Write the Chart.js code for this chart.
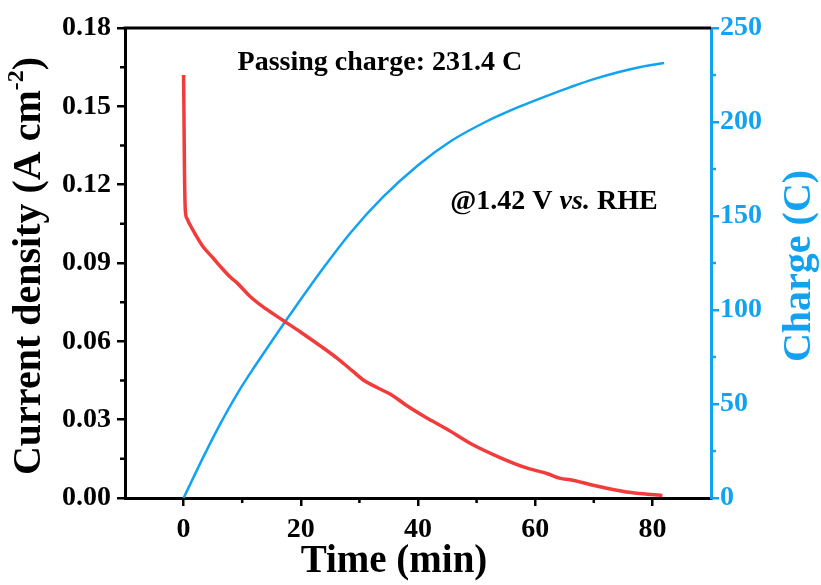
<!DOCTYPE html>
<html>
<head>
<meta charset="utf-8">
<script src="https://cdn.jsdelivr.net/npm/chart.js@4.4.0/dist/chart.umd.min.js"></script>
<style>
  html, body { margin: 0; padding: 0; background: #fff; }
  #wrap { width: 821px; height: 585px; }
</style>
</head>
<body>
<div id="wrap"><canvas id="chart"></canvas></div>
<script>
// Current density (A cm^-2) against time (min)
const currentTime = [0, 0.05, 0.15, 0.3, 0.6, 1, 2, 3.4, 5, 6.3, 8, 9.2, 11.4, 14, 17, 20, 23.5, 26.5, 28.8, 30.8, 33, 35.7, 38, 41.3, 44.9, 49.2, 54.1, 58.4, 62.1, 64.3, 66, 69.5, 75.6, 81.7];
const currentDensity = [0.162, 0.150, 0.125, 0.110, 0.107, 0.105, 0.101, 0.096, 0.092, 0.0886, 0.0845, 0.0822, 0.0771, 0.0725, 0.068, 0.0635, 0.058, 0.053, 0.0487, 0.045, 0.0423, 0.0392, 0.0355, 0.0309, 0.0264, 0.0206, 0.0154, 0.0116, 0.0093, 0.0075, 0.007, 0.0051, 0.0023, 0.001];

// Passed charge (C) against time (min)
const chargeTime = [0, 3.4, 6.3, 9.2, 12.1, 14.9, 17.2, 19.5, 24, 28.6, 34, 40, 45.7, 51.5, 57.2, 62.9, 65.8, 70, 74.3, 78, 82];
const chargeValue = [0, 22, 39.7, 55.7, 69.8, 82.7, 93.2, 103.5, 123, 141.5, 160, 177, 190, 200, 208, 215, 218.3, 222.8, 226.6, 229.3, 231.4];

// Axis ticks
const timeTicks = [0, 20, 40, 60, 80];
const timeMinor = [10, 30, 50, 70];
const densityTicks = [0, 0.03, 0.06, 0.09, 0.12, 0.15, 0.18];
const densityMinor = [0.015, 0.045, 0.075, 0.105, 0.135, 0.165];
const chargeTicks = [0, 50, 100, 150, 200, 250];
const chargeMinor = [25, 75, 125, 175, 225];

const RED = '#f23b3b';
const BLUE = '#12a2f2';
const FONT = "'Liberation Serif', 'Times New Roman', serif";

function setTicks(values) {
  return function (scale) {
    scale.ticks = values.map(v => ({ value: v }));
  };
}

// draw a run of [text, font, dy] pieces centred on 0
function drawRun(ctx, parts) {
  let total = 0;
  parts.forEach(p => { ctx.font = p[1]; total += ctx.measureText(p[0]).width; });
  let cx = -total / 2;
  ctx.textAlign = 'left';
  parts.forEach(p => {
    ctx.font = p[1];
    ctx.fillText(p[0], cx, p[2] || 0);
    cx += ctx.measureText(p[0]).width;
  });
}

// extra drawing: box top line, minor ticks, titles and notes
const extras = {
  id: 'extras',
  afterDraw(chart) {
    const ctx = chart.ctx;
    const area = chart.chartArea;
    const x = chart.scales.x, y = chart.scales.y, y2 = chart.scales.y2;
    ctx.save();

    // top frame line
    ctx.strokeStyle = '#000';
    ctx.lineWidth = 3;
    ctx.beginPath();
    ctx.moveTo(area.left - 1.5, area.top);
    ctx.lineTo(area.right, area.top);
    ctx.stroke();

    // minor ticks
    ctx.lineWidth = 2.5;
    ctx.beginPath();
    timeMinor.forEach(v => {
      const px = x.getPixelForValue(v);
      ctx.moveTo(px, area.bottom);
      ctx.lineTo(px, area.bottom + 5);
    });
    densityMinor.forEach(v => {
      const py = y.getPixelForValue(v);
      ctx.moveTo(area.left, py);
      ctx.lineTo(area.left - 5, py);
    });
    ctx.stroke();
    ctx.strokeStyle = BLUE;
    ctx.beginPath();
    chargeMinor.forEach(v => {
      const py = y2.getPixelForValue(v);
      ctx.moveTo(area.right, py);
      ctx.lineTo(area.right + 5, py);
    });
    ctx.stroke();

    const big = 'bold 40px ' + FONT;
    const small = 'bold 24px ' + FONT;
    const midY = (area.top + area.bottom) / 2 + 3;
    ctx.textBaseline = 'middle';

    // left title with superscript
    ctx.fillStyle = '#000';
    ctx.translate(30, midY);
    ctx.rotate(-Math.PI / 2);
    drawRun(ctx, [['Current density (A cm', big], ['-2', small, -13], [')', big]]);
    ctx.setTransform(1, 0, 0, 1, 0, 0);

    // right title
    ctx.fillStyle = BLUE;
    ctx.translate(800, midY);
    ctx.rotate(-Math.PI / 2);
    drawRun(ctx, [['Charge (C)', big]]);
    ctx.setTransform(1, 0, 0, 1, 0, 0);

    // bottom title
    ctx.fillStyle = '#000';
    ctx.translate(394, 562);
    drawRun(ctx, [['Time (min)', 'bold 39px ' + FONT]]);
    ctx.setTransform(1, 0, 0, 1, 0, 0);

    // notes placed in data coordinates
    const note = 'bold 28px ' + FONT;
    ctx.translate(x.getPixelForValue(33.5), y.getPixelForValue(0.1666));
    drawRun(ctx, [['Passing charge: 231.4 C', note]]);
    ctx.setTransform(1, 0, 0, 1, 0, 0);

    ctx.translate(x.getPixelForValue(63.2), y.getPixelForValue(0.1135));
    drawRun(ctx, [['@1.42 V ', note], ['vs.', 'italic ' + note], [' RHE', note]]);
    ctx.restore();
  }
};

const ctx = document.getElementById('chart').getContext('2d');
const chart = new Chart(ctx, {
  type: 'line',
  data: {
    datasets: [{
      label: 'Current density',
      data: currentTime.map((t, i) => ({ x: t, y: currentDensity[i] })),
      borderColor: RED,
      borderWidth: 3.5,
      pointRadius: 0,
      cubicInterpolationMode: 'monotone',
      yAxisID: 'y'
    }, {
      label: 'Charge',
      data: chargeTime.map((t, i) => ({ x: t, y: chargeValue[i] })),
      borderColor: BLUE,
      borderWidth: 2.5,
      pointRadius: 0,
      cubicInterpolationMode: 'monotone',
      yAxisID: 'y2'
    }]
  },
  options: {
    responsive: true,
    maintainAspectRatio: false,
    animation: false,
    layout: { padding: { top: 28, left: 0, right: 0, bottom: 0 } },
    plugins: { legend: { display: false }, tooltip: { enabled: false } },
    scales: {
      x: {
        type: 'linear',
        min: -10,
        max: 90,
        afterBuildTicks: setTicks(timeTicks),
        afterFit: s => { s.height = 87; },
        grid: { drawOnChartArea: false, color: '#000', lineWidth: 2.5, tickLength: 8 },
        border: { color: '#000', width: 3 },
        ticks: { color: '#000', font: { family: FONT, size: 28, weight: 'bold' }, padding: 7, maxRotation: 0 }
      },
      y: {
        position: 'left',
        min: 0,
        max: 0.18,
        afterBuildTicks: setTicks(densityTicks),
        afterFit: s => { s.width = 125; },
        grid: { drawOnChartArea: false, color: '#000', lineWidth: 2.5, tickLength: 8 },
        border: { color: '#000', width: 3 },
        ticks: { color: '#000', font: { family: FONT, size: 28, weight: 'bold' }, padding: 6, callback: v => v.toFixed(2) }
      },
      y2: {
        position: 'right',
        min: 0,
        max: 250,
        afterBuildTicks: setTicks(chargeTicks),
        afterFit: s => { s.width = 110; },
        grid: { drawOnChartArea: false, color: BLUE, lineWidth: 2.5, tickLength: 8 },
        border: { color: BLUE, width: 3 },
        ticks: { color: BLUE, font: { family: FONT, size: 28, weight: 'bold' }, padding: 1 }
      }
    }
  },
  plugins: [extras]
});
</script>
</body>
</html>
